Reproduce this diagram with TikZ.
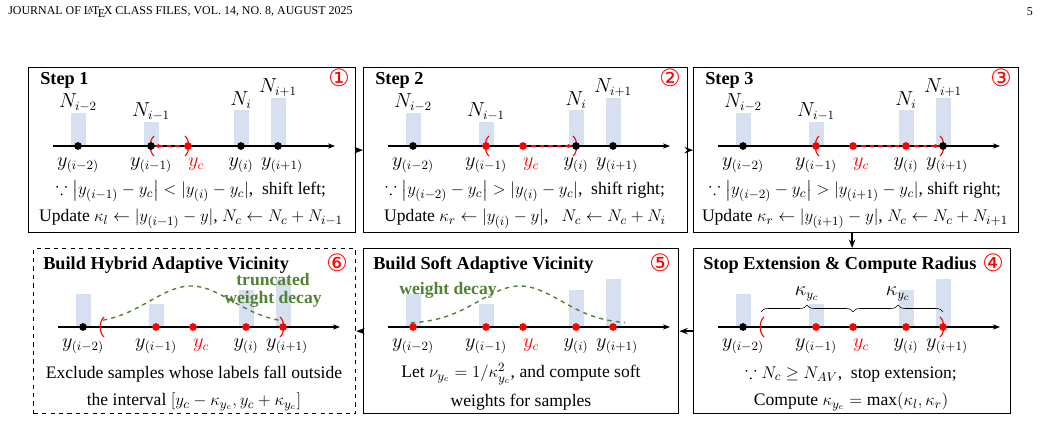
\documentclass[tikz,border=0pt]{standalone}
\usepackage{amsmath,amssymb}
\usepackage{fontspec}
\setmainfont{Liberation Serif}
\newfontfamily\dejavu{DejaVu Sans}
\usetikzlibrary{arrows.meta,decorations.pathreplacing}
\definecolor{barblue}{RGB}{214,224,240}
\definecolor{wgreen}{RGB}{84,130,53}
\newcommand\pA{50}\newcommand\pB{123}\newcommand\pC{160}\newcommand\pD{213}\newcommand\pE{250}
\newcommand\bars[5]{%
 \fill[barblue] (\pA-7.5,#1) rectangle ++(15,-#2);
 \fill[barblue] (\pB-7.5,#1) rectangle ++(15,-#3);
 \fill[barblue] (\pD-7.5,#1) rectangle ++(15,-#4);
 \fill[barblue] (\pE-7.5,#1) rectangle ++(15,-#5);
 \draw[axis] (25,#1) -- (307,#1);
 \node[lab] at (\pA,#1+19) {$y_{(i-2)}$};
 \node[lab] at (\pB,#1+19) {$y_{(i-1)}$};
 \node[lab,red] at (\pC+8,#1+18) {$y_c$};
 \node[lab] at (\pD,#1+19) {$y_{(i)}$};
 \node[lab] at (\pE+4,#1+19) {$y_{(i+1)}$};}
\newcommand\nlabs[5]{%
 \node[lab] at (\pA,#1-#2-10) {$N_{i-2}$};
 \node[lab] at (\pB,#1-#3-10) {$N_{i-1}$};
 \node[lab] at (\pD,#1-#4-10) {$N_{i}$};
 \node[lab] at (\pE,#1-#5-10) {$N_{i+1}$};}
\newcommand\lpar[2]{\draw[red,thick] (#1+3,#2-10) .. controls (#1-2,#2-6) and (#1-2,#2+6) .. (#1+3,#2+10);}
\newcommand\rpar[2]{\draw[red,thick] (#1-3,#2-10) .. controls (#1+2,#2-6) and (#1+2,#2+6) .. (#1-3,#2+10);}
\tikzset{
 box/.style={draw, line width=0.9pt, anchor=north west, inner sep=0, minimum height=165*0.025cm},
 axis/.style={-{Stealth[length=5pt]}, line width=0.8pt},
 lab/.style={font=\fontsize{13.5}{15}\selectfont, inner sep=0},
 txt/.style={font=\fontsize{12.5}{15}\selectfont, inner sep=0},
 ttl/.style={font=\fontsize{13}{15}\selectfont\bfseries, anchor=west, inner sep=0},
 num/.style={font=\dejavu\fontsize{17}{18}\selectfont, text=red, inner sep=0},
 bdot/.style={circle, fill=black, inner sep=0, minimum size=5.5pt},
 rdot/.style={circle, fill=red, inner sep=0, minimum size=5.5pt},
 shiftarr/.style={red, dashed, thick, -{Stealth[length=4pt]}},
 flow/.style={-{Stealth[length=6pt]}, line width=1.3pt},
 wd/.style={wgreen, dashed, line width=1pt},
 gl/.style={font=\fontsize{12.5}{14}\selectfont\bfseries, text=wgreen, inner sep=0},
}
\begin{document}
\begin{tikzpicture}[x=0.025cm,y=-0.025cm]
\useasboundingbox (0,0) rectangle (1041,428);
\node[anchor=west, font=\fontsize{8.5}{10}\selectfont, inner sep=0] (hdr) at (8,12) {JOURNAL OF L\kern-.32em\raisebox{.22em}{\fontsize{6}{7}\selectfont A}\kern-.12em T\kern-.14em\lower.45ex\hbox{E}\kern-.1em X CLASS FILES, VOL. 14, NO. 8, AUGUST 2025};
\node[anchor=east, font=\fontsize{8.5}{10}\selectfont, inner sep=0] (pg) at (1033,12) {5};
% boxes
\node[box, minimum width=327*0.025cm] (b1) at (28,67) {};
\node[box, minimum width=324*0.025cm] (b2) at (363,67) {};
\node[box, minimum width=325*0.025cm] (b3) at (693,67) {};
\node[box, dashed, minimum width=322*0.025cm] (b6) at (33,248) {};
\node[box, minimum width=315*0.025cm] (b5) at (363,248) {};
\node[box, minimum width=317*0.025cm] (b4) at (693,248) {};
\draw[flow] (b1.east) -- (b2.west);
\draw[flow] (b2.east) -- (b3.west);
\draw[flow] (b3.south -| b4.north) -- (b4.north);
\draw[flow] (b4.west) -- (b5.east);
\draw[flow] (b5.west) -- (b6.east);
% Step 1
\begin{scope}[shift={(28,67)}]
 \node[ttl] at (12,13) {Step 1};
 \node[num] at (311,11) {①};
 \bars{79}{33}{24}{36}{48}\nlabs{79}{33}{24}{36}{48}
 \draw[shiftarr] (\pC,79) -- (\pB+3,79);
 \lpar{\pB}{79}\rpar{\pC}{79}
 \node[bdot] at (\pA,79) {}; \node[bdot] at (\pB,79) {}; \node[rdot] at (\pC,79) {};
 \node[bdot] at (\pD,79) {}; \node[bdot] at (\pE,79) {};
 \node[txt] at (163,124) {$\because \bigl|y_{(i-1)}-y_c\bigr| < |y_{(i)}-y_c|$,~ shift left;};
 \node[txt] at (163,152) {Update $\kappa_l \leftarrow |y_{(i-1)}-y|$, $N_c \leftarrow N_c+N_{i-1}$};
\end{scope}
% Step 2
\begin{scope}[shift={(363,67)}]
 \node[ttl] at (12,13) {Step 2};
 \node[num] at (307,11) {②};
 \bars{79}{33}{24}{36}{48}\nlabs{79}{33}{24}{36}{48}
 \draw[shiftarr] (\pC,79) -- (\pD-3,79);
 \lpar{\pB}{79}\rpar{\pD}{79}
 \node[bdot] at (\pA,79) {}; \node[rdot] at (\pB,79) {}; \node[rdot] at (\pC,79) {};
 \node[bdot] at (\pD,79) {}; \node[bdot] at (\pE,79) {};
 \node[txt] at (162,124) {$\because \bigl|y_{(i-2)}-y_c\bigr| > |y_{(i)}-y_c|$,~ shift right;};
 \node[txt] at (162,152) {Update $\kappa_r \leftarrow |y_{(i)}-y|$,~~ $N_c \leftarrow N_c+N_{i}$};
\end{scope}
% Step 3
\begin{scope}[shift={(693,67)}]
 \node[ttl] at (12,13) {Step 3};
 \node[num] at (308,11) {③};
 \bars{79}{33}{24}{36}{48}\nlabs{79}{33}{24}{36}{48}
 \draw[shiftarr] (\pD,79) -- (\pE-3,79);
 \draw[red,dashed,thick] (\pC,79) -- (\pD,79);
 \lpar{\pB}{79}\rpar{\pE}{79}
 \node[bdot] at (\pA,79) {}; \node[rdot] at (\pB,79) {}; \node[rdot] at (\pC,79) {};
 \node[rdot] at (\pD,79) {}; \node[bdot] at (\pE,79) {};
 \node[txt] at (162,124) {$\because \bigl|y_{(i-2)}-y_c\bigr| > |y_{(i+1)}-y_c|$, shift right;};
 \node[txt] at (162,152) {Update $\kappa_r \leftarrow |y_{(i+1)}-y|$, $N_c \leftarrow N_c+N_{i+1}$};
\end{scope}
% Step 4
\begin{scope}[shift={(693,248)}]
 \node[ttl] at (10,17) {Stop Extension \& Compute Radius};
 \node[num] at (300,15) {④};
 \bars{79}{33}{23}{37}{48}
 \lpar{68}{79}\rpar{\pE}{79}
 \draw[decorate,decoration={brace,amplitude=5pt}] (68,64) -- (\pC,64);
 \draw[decorate,decoration={brace,amplitude=5pt}] (\pC,64) -- (\pE,64);
 \node[lab] at (114,46) {$\kappa_{y_c}$};
 \node[lab] at (205,46) {$\kappa_{y_c}$};
 \node[bdot] at (\pA,79) {}; \node[rdot] at (\pB,79) {}; \node[rdot] at (\pC,79) {};
 \node[rdot] at (\pD,79) {}; \node[rdot] at (\pE,79) {};
 \node[txt] at (158,126) {$\because N_c \geq N_{AV}$,~ stop extension;};
 \node[txt] at (158,154) {Compute $\kappa_{y_c} = \max(\kappa_l,\kappa_r)$};
\end{scope}
% Step 5
\begin{scope}[shift={(363,248)}]
 \node[ttl] at (10,17) {Build Soft Adaptive Vicinity};
 \node[num] at (297,15) {⑤};
 \bars{79}{33}{23}{37}{48}
 \draw[wd] plot[domain=48:262, samples=60] (\x,{76-38*exp(-((\x-157)/58)^2)});
 \node[gl] at (85,42) {weight decay};
 \node[rdot] at (\pA,79) {}; \node[rdot] at (\pB,79) {}; \node[rdot] at (\pC,79) {};
 \node[rdot] at (\pD,79) {}; \node[rdot] at (\pE,79) {};
 \node[txt] at (158,126) {Let $\nu_{y_c} = 1/\kappa_{y_c}^2$, and compute soft};
 \node[txt] at (158,154) {weights for samples};
\end{scope}
% Step 6
\begin{scope}[shift={(33,248)}]
 \node[ttl] at (10,17) {Build Hybrid Adaptive Vicinity};
 \node[num] at (304,15) {⑥};
 \bars{79}{33}{23}{37}{48}
 \lpar{68}{79}\rpar{\pE}{79}
 \draw[wd] plot[domain=70:248, samples=60] (\x,{76-38*exp(-((\x-158)/58)^2)});
 \node[gl] at (240,32) {truncated};
 \node[gl] at (240,51) {weight decay};
 \node[bdot] at (\pA,79) {}; \node[rdot] at (\pB,79) {}; \node[rdot] at (\pC,79) {};
 \node[rdot] at (\pD,79) {}; \node[rdot] at (\pE,79) {};
 \node[txt] at (161,126) {Exclude samples whose labels fall outside};
 \node[txt] at (161,154) {the interval $[y_c-\kappa_{y_c}, y_c+\kappa_{y_c}]$};
\end{scope}
\end{tikzpicture}
\end{document}
